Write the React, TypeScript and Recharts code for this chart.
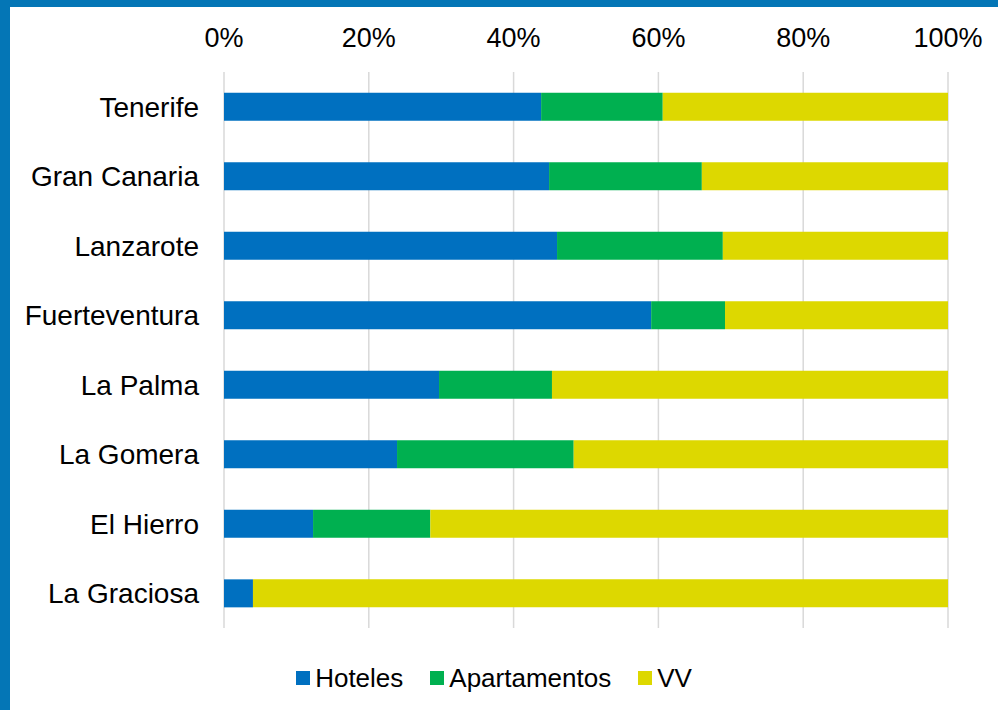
import React from "react";
import { BarChart, Bar, XAxis, YAxis, CartesianGrid, Legend } from "recharts";

const islands = ["Tenerife", "Gran Canaria", "Lanzarote", "Fuerteventura", "La Palma", "La Gomera", "El Hierro", "La Graciosa"];
const hoteles = [43.8, 44.9, 46.0, 59.0, 29.7, 23.9, 12.3, 4.0];
const apartamentos = [16.8, 21.1, 22.9, 10.2, 15.6, 24.4, 16.2, 0];
const vv = [39.4, 34.0, 31.1, 30.8, 54.7, 51.7, 71.5, 96.0];
const xTicks = [0, 20, 40, 60, 80, 100];

const seriesNames = ["Hoteles", "Apartamentos", "VV"];
const seriesColors = ["#0070C0", "#00B050", "#DDD800"];

const data = islands.map((name, i) => ({
  name,
  Hoteles: hoteles[i],
  Apartamentos: apartamentos[i],
  VV: vv[i],
}));

const FONT = "'Liberation Sans', Arial, sans-serif";

const LegendContent = () => (
  <div style={{ display: "flex", justifyContent: "center", alignItems: "center", fontFamily: FONT, fontSize: 26, color: "#000", paddingLeft: 30, height: 32 }}>
    {seriesNames.map((n, i) => (
      <div key={n} style={{ display: "flex", alignItems: "center", marginRight: i < 2 ? 27 : 0 }}>
        <span style={{ display: "inline-block", width: 14, height: 14, background: seriesColors[i], marginRight: 5 }} />
        <span>{n}</span>
      </div>
    ))}
  </div>
);

export default function App() {
  return (
    <div
      style={{
        position: "fixed",
        left: 0,
        top: 0,
        width: 998,
        height: 710,
        boxSizing: "border-box",
        background: "#fff",
        borderTop: "7px solid #0476B6",
        borderLeft: "10px solid #0476B6",
      }}
    >
      <BarChart
        width={988}
        height={703}
        data={data}
        layout="vertical"
        margin={{ top: 0, right: 50, bottom: 50, left: 0 }}
        barCategoryGap="30%"
      >
        <CartesianGrid horizontal={false} vertical={true} stroke="#d9d9d9" strokeWidth={1.5} />
        <XAxis
          type="number"
          orientation="top"
          domain={[0, 100]}
          ticks={xTicks}
          tickFormatter={(v: number) => `${v}%`}
          axisLine={false}
          tickLine={false}
          tickSize={0}
          tickMargin={25}
          height={65}
          interval={0}
          tick={{ fill: "#000", fontSize: 27, fontFamily: FONT }}
        />
        <YAxis
          type="category"
          dataKey="name"
          width={214}
          axisLine={false}
          tickLine={false}
          tickSize={0}
          tickMargin={25}
          interval={0}
          tick={{ fill: "#000", fontSize: 28, fontFamily: FONT }}
        />
        <Legend verticalAlign="bottom" wrapperStyle={{ top: 655 }} content={<LegendContent />} />
        {seriesNames.map((n, i) => (
          <Bar key={n} dataKey={n} stackId="a" fill={seriesColors[i]} isAnimationActive={false} />
        ))}
      </BarChart>
    </div>
  );
}
